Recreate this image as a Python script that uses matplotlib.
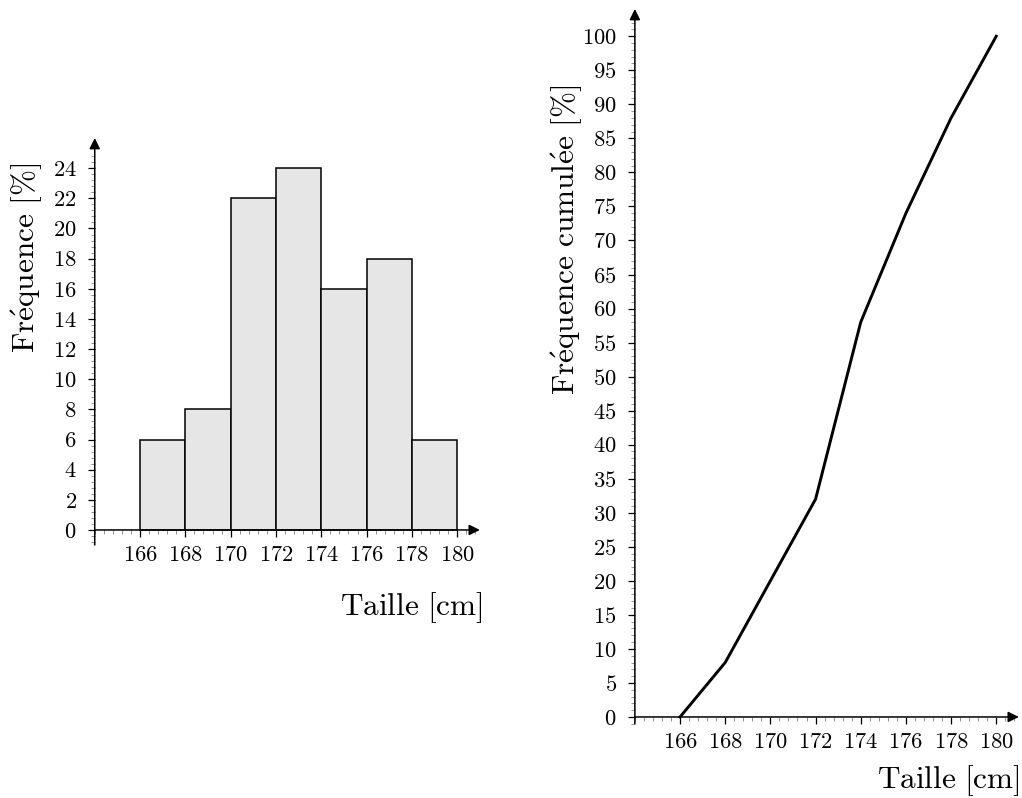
import numpy as np
import matplotlib
matplotlib.use("Agg")
import matplotlib.pyplot as plt
from matplotlib.ticker import FixedLocator

plt.rcParams['font.family'] = 'cmr10'
plt.rcParams['mathtext.fontset'] = 'cm'
plt.rcParams['axes.unicode_minus'] = False
plt.rcParams['axes.formatter.use_mathtext'] = True

# Histogram: class edges [cm] and frequency [%]
bin_left = [166, 168, 170, 172, 174, 176, 178]
bin_width = 2
freq = [6, 8, 22, 24, 16, 18, 6]

# Cumulative frequency polygon
cum_x = [166, 168, 170, 172, 174, 176, 178, 180]
cum_y = [0, 8, 20, 32, 58, 74, 88, 100]

x_ticks = [166, 168, 170, 172, 174, 176, 178, 180]
y_ticks_left = list(range(0, 25, 2))
y_ticks_right = list(range(0, 101, 5))

fig = plt.figure(figsize=(10.22, 7.98), dpi=100)

ax1 = fig.add_axes([0.0927, 0.317, 0.3768, 0.510])
ax2 = fig.add_axes([0.6212, 0.093, 0.3757, 0.8957])

TICK_FS = 16.2
LABEL_FS = 22.5
AX_LW = 1.1


def style_axis(ax, xlim, ylim, yticks, yminor):
    ax.set_xlim(*xlim)
    ax.set_ylim(*ylim)
    ax.set_facecolor('none')
    for s in ['top', 'right']:
        ax.spines[s].set_visible(False)
    ax.spines['bottom'].set_position(('data', 0))
    ax.spines['left'].set_position(('data', xlim[0]))
    ax.spines['bottom'].set_color('none')
    ax.spines['left'].set_color('none')
    ax.xaxis.set_major_locator(FixedLocator(x_ticks))
    ax.xaxis.set_minor_locator(FixedLocator(np.round(np.arange(xlim[0], xlim[1] - 0.2, 0.4), 2)))
    ax.yaxis.set_major_locator(FixedLocator(yticks))
    ax.yaxis.set_minor_locator(FixedLocator(yminor))
    ax.tick_params(which='major', direction='out', length=5, width=0.9,
                   labelsize=TICK_FS, pad=6, color='black')
    ax.tick_params(which='minor', direction='out', length=3.2, width=0.55,
                   color='#777777')
    ax.tick_params(axis='y', which='major', pad=8)
    # axis lines with arrow heads
    arrow = dict(arrowstyle='-|>', lw=AX_LW, color='black', mutation_scale=16,
                 shrinkA=0, shrinkB=0)
    ax.annotate('', xy=(xlim[1], 0), xytext=(xlim[0], 0), arrowprops=arrow,
                annotation_clip=False)
    ax.annotate('', xy=(xlim[0], ylim[1]), xytext=(xlim[0], ylim[0]),
                arrowprops=arrow, annotation_clip=False)


# Left: histogram
ax1.bar(bin_left, freq, width=bin_width, align='edge', color='#e6e6e6',
        edgecolor='black', linewidth=1.1, zorder=2)
style_axis(ax1, (164, 181), (-1, 26), y_ticks_left,
           np.round(np.arange(-0.8, 25.0, 0.4), 2))

# Right: cumulative frequency
ax2.plot(cum_x, cum_y, color='black', lw=2.1, solid_joinstyle='miter', zorder=3)
style_axis(ax2, (164, 181), (-1, 104), y_ticks_right,
           np.arange(-1, 103, 1))

fig.text(0.027, 0.677, r'$\mathrm{Fr\acute{e}quence\ [\%]}$', rotation=90,
         ha='center', va='center', fontsize=LABEL_FS)
fig.text(0.472, 0.239, r'$\mathrm{Taille\ [cm]}$', ha='right', va='center',
         fontsize=LABEL_FS)
fig.text(0.555, 0.699, r'$\mathrm{Fr\acute{e}quence\ cumul\acute{e}e\ [\%]}$',
         rotation=90, ha='center', va='center', fontsize=LABEL_FS)
fig.text(0.998, 0.022, r'$\mathrm{Taille\ [cm]}$', ha='right', va='center',
         fontsize=LABEL_FS)

fig.savefig('out.png', dpi=100)
